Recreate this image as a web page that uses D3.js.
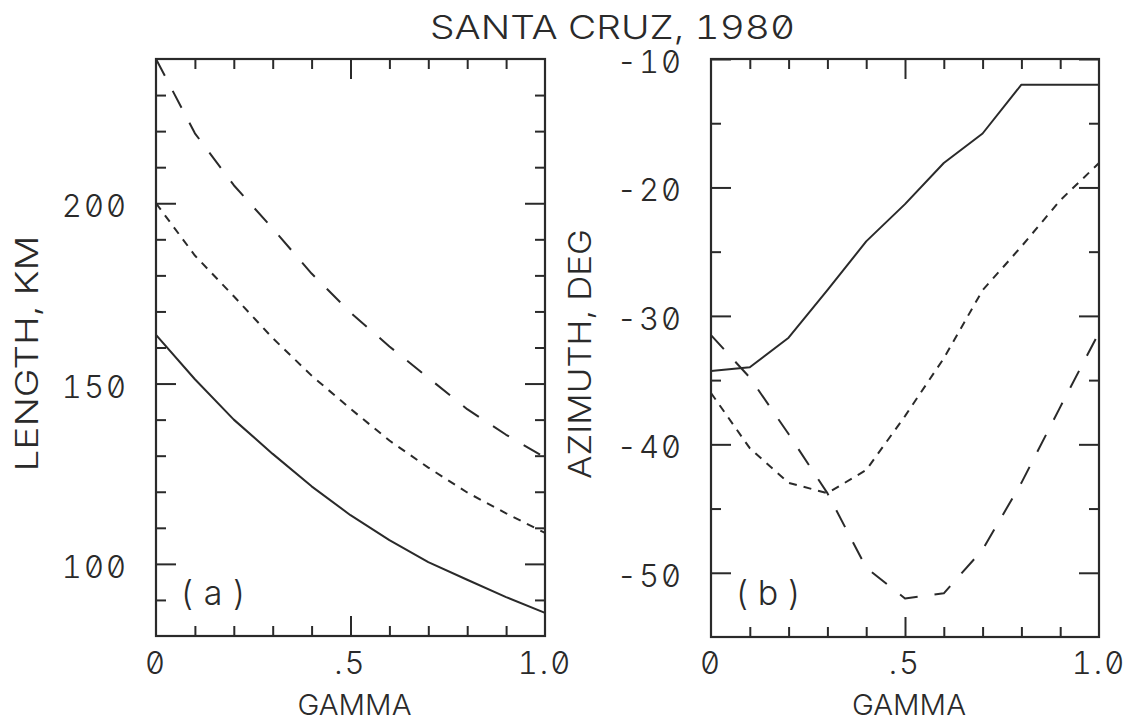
<!DOCTYPE html>
<html>
<head>
<meta charset="utf-8">
<script src="https://cdn.jsdelivr.net/npm/d3@7"></script>
<style>
  html, body { margin: 0; padding: 0; background: #ffffff; }
  svg { display: block; }
  text { font-family: Inter, "DejaVu Sans", sans-serif; font-weight: 300; fill: #2a2a2a;
         font-feature-settings: "zero" 1, "tnum" 1; }
</style>
</head>
<body>
<svg id="chart" width="1132" height="723"></svg>
<script>
// ---------------- data ----------------
const gamma = [0, 0.1, 0.2, 0.3, 0.4, 0.5, 0.6, 0.7, 0.8, 0.9, 1.0];

// panel (a): LENGTH, KM
const lengthSolid     = [163.5, 151.2, 140.0, 130.5, 121.5, 113.5, 106.6, 100.5, 95.6, 90.8, 86.4];
const lengthShortDash = [200.0, 185.5, 174.2, 162.6, 152.2, 143.0, 134.2, 126.7, 119.8, 114.0, 108.6];
const lengthLongDash  = [240.0, 219.4, 205.0, 193.0, 180.5, 169.7, 160.3, 151.6, 142.9, 135.8, 129.5];

// panel (b): AZIMUTH, DEG
const azSolid     = [-34.3, -34.0, -31.7, -28.0, -24.2, -21.3, -18.1, -15.8, -12.0, -12.0, -12.0];
const azShortDash = [-36.0, -40.3, -43.0, -43.8, -42.0, -37.8, -33.3, -28.0, -24.6, -21.0, -18.1];
const azLongDash  = [-31.5, -34.8, -39.2, -43.8, -49.6, -52.0, -51.6, -48.2, -43.0, -37.1, -31.3];

// ticks
const gammaMinorTicks = [0.1, 0.2, 0.3, 0.4, 0.6, 0.7, 0.8, 0.9];
const gammaMajorTicks = [0.5];
const gammaLabelValues = [0, 0.5, 1.0];
const gammaLabels = ["0", ".5", "1.0"];

const lengthMinorTicks = [90, 110, 120, 130, 140, 160, 170, 180, 190, 210, 220, 230];
const lengthMajorTicks = [100, 150, 200];
const lengthLabels = ["100", "150", "200"];

const azMinorTicks = [-15, -25, -35, -45];
const azMajorTicks = [-10, -20, -30, -40, -50];
const azLabels = ["-10", "-20", "-30", "-40", "-50"];

const title = "SANTA CRUZ, 1980";

// ---------------- layout ----------------
const svg = d3.select("#chart");
const ink = "#2a2a2a";
const dashStyles = { solid: null, short: "8,7", long: "19,17" };

const panels = [
  {
    left: 156, right: 545, top: 59, bottom: 636,
    yDomain: [80, 240],
    minor: lengthMinorTicks, major: lengthMajorTicks, labels: lengthLabels,
    series: [
      { values: lengthSolid, dash: dashStyles.solid },
      { values: lengthShortDash, dash: dashStyles.short },
      { values: lengthLongDash, dash: dashStyles.long }
    ],
    ylabel: "LENGTH, KM", ylabelX: 27, ylabelLen: 236,
    tag: "(a)"
  },
  {
    left: 711, right: 1099, top: 59, bottom: 637,
    yDomain: [-55, -10],
    minor: azMinorTicks, major: azMajorTicks, labels: azLabels,
    series: [
      { values: azSolid, dash: dashStyles.solid },
      { values: azShortDash, dash: dashStyles.short },
      { values: azLongDash, dash: dashStyles.long }
    ],
    ylabel: "AZIMUTH, DEG", ylabelX: 580, ylabelLen: 250,
    tag: "(b)"
  }
];

panels.forEach(p => {
  const x = d3.scaleLinear().domain([0, 1]).range([p.left, p.right]);
  const y = d3.scaleLinear().domain(p.yDomain).range([p.bottom, p.top]);
  const g = svg.append("g");

  // ticks (inward, all four sides)
  const addAxis = (axis, transform) => {
    const a = g.append("g").attr("transform", transform).call(axis);
    a.select(".domain").remove();
    a.selectAll("line").attr("stroke", ink).attr("stroke-width", 2);
    a.selectAll("text").remove();
  };
  const H = p.right - p.left, V = p.bottom - p.top;
  addAxis(d3.axisBottom(x).tickValues(gammaMinorTicks).tickSizeInner(-10).tickSizeOuter(0), `translate(0,${p.bottom})`);
  addAxis(d3.axisBottom(x).tickValues(gammaMajorTicks).tickSizeInner(-20).tickSizeOuter(0), `translate(0,${p.bottom})`);
  addAxis(d3.axisTop(x).tickValues(gammaMinorTicks).tickSizeInner(-10).tickSizeOuter(0), `translate(0,${p.top})`);
  addAxis(d3.axisTop(x).tickValues(gammaMajorTicks).tickSizeInner(-20).tickSizeOuter(0), `translate(0,${p.top})`);
  addAxis(d3.axisLeft(y).tickValues(p.minor).tickSizeInner(-10).tickSizeOuter(0), `translate(${p.left},0)`);
  addAxis(d3.axisLeft(y).tickValues(p.major).tickSizeInner(-20).tickSizeOuter(0), `translate(${p.left},0)`);
  addAxis(d3.axisRight(y).tickValues(p.minor).tickSizeInner(-10).tickSizeOuter(0), `translate(${p.right},0)`);
  addAxis(d3.axisRight(y).tickValues(p.major).tickSizeInner(-20).tickSizeOuter(0), `translate(${p.right},0)`);

  // curves
  const line = d3.line().x((d, i) => x(gamma[i])).y(d => y(d));
  p.series.forEach(s => {
    g.append("path")
      .datum(s.values)
      .attr("d", line)
      .attr("fill", "none")
      .attr("stroke", ink)
      .attr("stroke-width", 2)
      .attr("stroke-linejoin", "round")
      .attr("stroke-dasharray", s.dash);
  });

  // frame
  g.append("rect")
    .attr("x", p.left).attr("y", p.top)
    .attr("width", H).attr("height", V)
    .attr("fill", "none").attr("stroke", ink).attr("stroke-width", 2.2);

  // y tick labels
  g.selectAll(".ylab").data(p.major).join("text")
    .attr("x", p.left - 28)
    .attr("y", d => y(d) + 14)
    .attr("text-anchor", "end")
    .attr("font-size", 31)
    .attr("letter-spacing", 2)
    .text((d, i) => p.labels[i]);

  // x tick labels
  g.selectAll(".xlab").data(gammaLabelValues).join("text")
    .attr("x", d => x(d))
    .attr("y", 674)
    .attr("text-anchor", "middle")
    .attr("font-size", 31)
    .attr("letter-spacing", 2)
    .text((d, i) => gammaLabels[i]);

  // x axis title
  g.append("text")
    .attr("x", (p.left + p.right) / 2 + 4)
    .attr("y", 715)
    .attr("text-anchor", "middle")
    .attr("font-size", 29)
    .attr("textLength", 114)
    .attr("lengthAdjust", "spacingAndGlyphs")
    .text("GAMMA");

  // y axis title
  const cy = (p.top + p.bottom) / 2 + 6;
  g.append("text")
    .attr("transform", `translate(${p.ylabelX + 11},${cy}) rotate(-90)`)
    .attr("text-anchor", "middle")
    .attr("font-size", 31)
    .attr("textLength", p.ylabelLen)
    .attr("lengthAdjust", "spacingAndGlyphs")
    .text(p.ylabel);

  // panel tag
  g.append("text")
    .attr("x", p.left + 24)
    .attr("y", 605)
    .attr("font-size", 34)
    .attr("textLength", 66)
    .attr("lengthAdjust", "spacing")
    .text(p.tag);
});

// title
svg.append("text")
  .attr("x", 430)
  .attr("y", 39)
  .attr("font-size", 33)
  .attr("textLength", 365)
  .attr("lengthAdjust", "spacingAndGlyphs")
  .text(title);
</script>
</body>
</html>
